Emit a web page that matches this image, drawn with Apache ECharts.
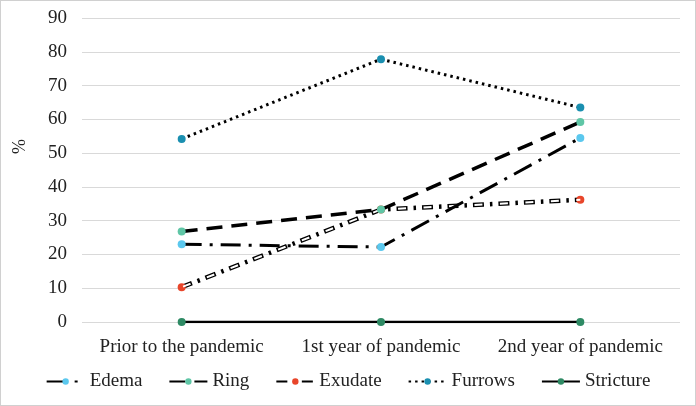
<!DOCTYPE html>
<html>
<head>
<meta charset="utf-8">
<script src="https://cdn.jsdelivr.net/npm/echarts@6/dist/echarts.min.js"></script>
<style>
html,body{margin:0;padding:0;background:#fff;}
#c{width:694px;height:404px;border:1px solid #d0d0d0;}
</style>
</head>
<body>
<div id="c"></div>
<script>
const categories = ['Prior to the pandemic', '1st year of pandemic', '2nd year of pandemic'];
const edema = [23.0, 22.2, 54.5];
const ring = [26.8, 33.3, 59.2];
const exudate = [10.3, 33.3, 36.2];
const furrows = [54.2, 77.8, 63.5];
const stricture = [0, 0, 0];
const yTicks = { min: 0, max: 90, interval: 10 };

const serif = '"Liberation Serif", "DejaVu Serif", serif';
const chart = echarts.init(document.getElementById('c'));

function mk(name, data, color, lineStyle, extra) {
  return Object.assign({
    name: name, type: 'line', data: data,
    symbol: 'circle', symbolSize: 8,
    itemStyle: { color: color },
    lineStyle: Object.assign({ color: '#000' }, lineStyle),
    emphasis: { disabled: true },
    animation: false
  }, extra || {});
}

chart.setOption({
  animation: false,
  grid: { left: 81, right: 15, top: 17, bottom: 83 },
  xAxis: {
    type: 'category', data: categories, boundaryGap: true,
    axisLine: { show: false }, axisTick: { show: false },
    axisLabel: { color: '#222', fontFamily: serif, fontSize: 19, margin: 16, interval: 0, hideOverlap: false }
  },
  yAxis: {
    type: 'value', min: yTicks.min, max: yTicks.max, interval: yTicks.interval,
    axisLine: { show: false }, axisTick: { show: false },
    axisLabel: { color: '#222', fontFamily: serif, fontSize: 19, margin: 15 },
    splitLine: { lineStyle: { color: '#d9d9d9', width: 1 } }
  },
  graphic: [{
    type: 'text', left: 10, top: 138, rotation: Math.PI / 2,
    style: { text: '%', fill: '#222', font: '18px ' + serif }
  }],
  legend: {
    data: ['Edema', 'Ring', 'Exudate', 'Furrows', 'Stricture'],
    bottom: 9, left: 'center', itemWidth: 38, itemHeight: 8, itemGap: 26,
    textStyle: { color: '#222', fontFamily: serif, fontSize: 19 }
  },
  series: [
    mk('Stricture', stricture, '#2e8a64', { width: 2.5, type: 'solid' }),
    mk('Exudate', exudate, '#e8452a', { width: 4.5, type: [11, 6, 2.5, 6], cap: 'butt' }, { z: 2 }),
    mk('ExudateInner', exudate, '#e8452a', { color: '#fff', width: 2, type: [8, 17.5], dashOffset: -1.5, cap: 'butt' }, { z: 3, symbol: 'none', silent: true }),
    mk('Ring', ring, '#5fc6a6', { width: 3.5, type: [16, 9], cap: 'butt' }, { z: 4 }),
    mk('Edema', edema, '#5bc8ee', { width: 3, type: [20, 8, 3, 8], cap: 'butt' }, { z: 4 }),
    mk('Furrows', furrows, '#1a8fb0', { width: 3, type: [2.5, 4], cap: 'butt' }, { z: 4 })
  ]
});
</script>
</body>
</html>
